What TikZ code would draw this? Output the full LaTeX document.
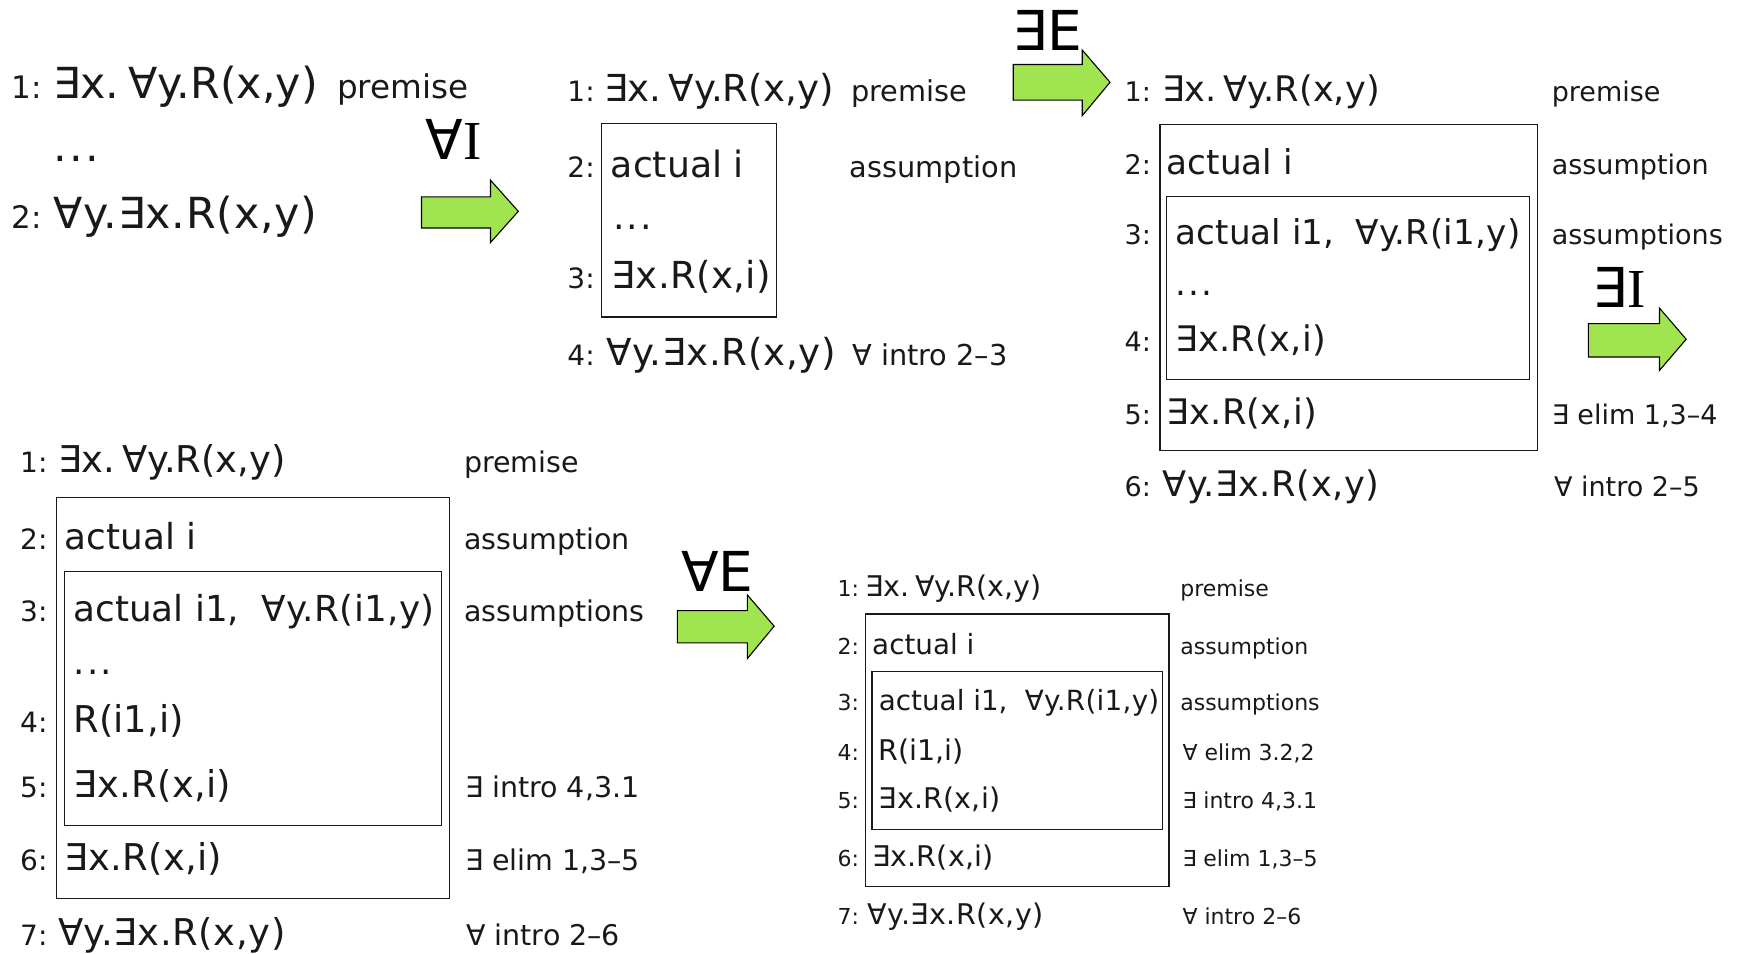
\documentclass[tikz,border=0pt]{standalone}
\usepackage{fontspec}
\setmainfont{DejaVu Sans}
\newfontfamily\serifI{Liberation Serif}
\definecolor{arrowgreen}{RGB}{160,228,80}
\definecolor{ink}{RGB}{25,25,25}
\newcommand{\fa}{{\addfontfeatures{LetterSpace=1.8}∀y.∃x.R(x,y)}}
\newcommand{\fe}{∃x.\hspace{0.2em}∀y.R(x,y)}
\newcommand{\fr}{{\addfontfeatures{LetterSpace=0.8}∃x.R(x,i)}}
\newcommand{\fact}{actual i1,\hspace{0.3em} {\addfontfeatures{LetterSpace=1}∀y.R(i1,y)}}
\newcommand{\fdots}{.\hspace{0.06em}.\hspace{0.06em}.}
\begin{document}
\begin{tikzpicture}[x=1.112245pt,y=-1.112245pt,
  every node/.style={text=ink},
  bw/.style={anchor=base west, inner sep=0pt},
  fA/.style={bw, font=\fontsize{42.8}{50}\selectfont},
  nA/.style={bw, font=\fontsize{31}{37}\selectfont},
  aA/.style={bw, font=\fontsize{32.6}{39}\selectfont},
  fB/.style={bw, font=\fontsize{37.2}{44}\selectfont},
  tB/.style={bw, font=\fontsize{36.2}{43}\selectfont},
  nB/.style={bw, font=\fontsize{28}{34}\selectfont},
  aB/.style={bw, font=\fontsize{28.8}{35}\selectfont},
  fC/.style={bw, font=\fontsize{35.2}{42}\selectfont},
  tC/.style={bw, font=\fontsize{34.2}{40}\selectfont},
  nC/.style={bw, font=\fontsize{27}{32}\selectfont},
  aC/.style={bw, font=\fontsize{27}{32}\selectfont},
  fD/.style={bw, font=\fontsize{36.9}{44}\selectfont},
  tD/.style={bw, font=\fontsize{35.8}{42}\selectfont},
  nD/.style={bw, font=\fontsize{28}{34}\selectfont},
  aD/.style={bw, font=\fontsize{28.5}{34}\selectfont},
  fE/.style={bw, font=\fontsize{28.5}{34}\selectfont},
  tE/.style={bw, font=\fontsize{27.8}{33}\selectfont},
  nE/.style={bw, font=\fontsize{22}{26}\selectfont},
  aE/.style={bw, font=\fontsize{22}{26}\selectfont},
  boxline/.style={draw=ink, line width=1.2pt},
  greenarrow/.style={draw=black, line width=1.1pt, fill=arrowgreen, line join=miter},
  steplabel/.style={anchor=center, inner sep=0pt, text=black, font=\fontsize{55}{60}\selectfont}
]
\useasboundingbox (0,0) rectangle (1568,857);

% ---------------- Panel A ----------------
\node[nA] (a1n) at (10,89) {1:};
\node[fA] (a1f) at (48,89) {\fe};
\node[aA] (a1r) at (303,89) {premise};
\node[fA] (adots) at (48,145) {\fdots};
\node[nA] (a2n) at (10,205) {2:};
\node[fA] (a2f) at (48,205) {\fa};

\node[steplabel] (labA) at (408,125) {∀{\serifI I}};
\draw[greenarrow] (379,177) -- (441,177) -- (441,162) -- (466,190) -- (441,218) -- (441,205) -- (379,205) -- cycle;

% ---------------- Panel B ----------------
\node[nB] (b1n) at (510,91) {1:};
\node[fB] (b1f) at (543,91) {\fe};
\node[aB] (b1r) at (765,91) {premise};
\draw[boxline] (541,111) rectangle (698,285);
\node[nB] (b2n) at (510,160) {2:};
\node[tB] (b2f) at (549,160) {actual i};
\node[aB] (b2r) at (764,160) {assumption};
\node[tB] (bdots) at (551,206) {\fdots};
\node[nB] (b3n) at (510,259) {3:};
\node[fB] (b3f) at (550,259) {\fr};
\node[nB] (b4n) at (510,329) {4:};
\node[fB] (b4f) at (545,329) {\fa};
\node[aB] (b4r) at (766,329) {∀ intro 2–3};

\node[steplabel] (labB) at (942,27) {∃E};
\draw[greenarrow] (911,58) -- (973,58) -- (973,45) -- (998,74) -- (973,104) -- (973,90) -- (911,90) -- cycle;

% ---------------- Panel C ----------------
\node[nC] (c1n) at (1011,91) {1:};
\node[fC] (c1f) at (1045,91) {\fe};
\node[aC] (c1r) at (1395,91) {premise};
\draw[boxline] (1043,112) rectangle (1382,405);
\node[nC] (c2n) at (1011,157) {2:};
\node[tC] (c2f) at (1049,157) {actual i};
\node[aC] (c2r) at (1395,157) {assumption};
\draw[boxline] (1049,177) rectangle (1375,341);
\node[nC] (c3n) at (1011,220) {3:};
\node[tC] (c3f) at (1057,220) {\fact};
\node[aC] (c3r) at (1395,220) {assumptions};
\node[tC] (cdots) at (1057,266) {\fdots};
\node[nC] (c4n) at (1011,316) {4:};
\node[fC] (c4f) at (1057,316) {\fr};
\node[nC] (c5n) at (1011,382) {5:};
\node[fC] (c5f) at (1049,382) {\fr};
\node[aC] (c5r) at (1395,382) {∃ elim 1,3–4};
\node[nC] (c6n) at (1011,446) {6:};
\node[fC] (c6f) at (1045,446) {\fa};
\node[aC] (c6r) at (1397,446) {∀ intro 2–5};

\node[steplabel] (labC) at (1456,258) {∃{\serifI I}};
\draw[greenarrow] (1428,291) -- (1492,291) -- (1492,277) -- (1516,305) -- (1492,333) -- (1492,321) -- (1428,321) -- cycle;

% ---------------- Panel D ----------------
\node[nD] (d1n) at (18,425) {1:};
\node[fD] (d1f) at (52,425) {\fe};
\node[aD] (d1r) at (417,425) {premise};
\draw[boxline] (51,447) rectangle (404,808);
\node[nD] (d2n) at (18,494) {2:};
\node[tD] (d2f) at (58,494) {actual i};
\node[aD] (d2r) at (417,494) {assumption};
\draw[boxline] (58,514) rectangle (397,742);
\node[nD] (d3n) at (18,559) {3:};
\node[tD] (d3f) at (66,559) {\fact};
\node[aD] (d3r) at (417,559) {assumptions};
\node[tD] (ddots) at (66,606) {\fdots};
\node[nD] (d4n) at (18,659) {4:};
\node[fD] (d4f) at (66,659) {R(i1,i)};
\node[nD] (d5n) at (18,717) {5:};
\node[fD] (d5f) at (66,717) {\fr};
\node[aD] (d5r) at (418,717) {∃ intro 4,3.1};
\node[nD] (d6n) at (18,783) {6:};
\node[fD] (d6f) at (58,783) {\fr};
\node[aD] (d6r) at (418,783) {∃ elim 1,3–5};
\node[nD] (d7n) at (18,850) {7:};
\node[fD] (d7f) at (52,850) {\fa};
\node[aD] (d7r) at (419,850) {∀ intro 2–6};

\node[steplabel] (labD) at (645,514) {∀E};
\draw[greenarrow] (609,549) -- (672,549) -- (672,535) -- (696,563) -- (672,592) -- (672,578) -- (609,578) -- cycle;

% ---------------- Panel E ----------------
\node[nE] (e1n) at (753,536) {1:};
\node[fE] (e1f) at (778,536) {\fe};
\node[aE] (e1r) at (1061,536) {premise};
\draw[boxline] (778,552) rectangle (1051,797);
\node[nE] (e2n) at (753,588) {2:};
\node[tE] (e2f) at (784,588) {actual i};
\node[aE] (e2r) at (1061,588) {assumption};
\draw[boxline] (784,604) rectangle (1045,746);
\node[nE] (e3n) at (753,639) {3:};
\node[tE] (e3f) at (790,639) {\fact};
\node[aE] (e3r) at (1061,639) {assumptions};
\node[nE] (e4n) at (753,684) {4:};
\node[fE] (e4f) at (790,684) {R(i1,i)};
\node[aE] (e4r) at (1063,684) {∀ elim 3.2,2};
\node[nE] (e5n) at (753,727) {5:};
\node[fE] (e5f) at (790,727) {\fr};
\node[aE] (e5r) at (1063,727) {∃ intro 4,3.1};
\node[nE] (e6n) at (753,779) {6:};
\node[fE] (e6f) at (784,779) {\fr};
\node[aE] (e6r) at (1063,779) {∃ elim 1,3–5};
\node[nE] (e7n) at (753,831) {7:};
\node[fE] (e7f) at (780,831) {\fa};
\node[aE] (e7r) at (1063,831) {∀ intro 2–6};
\end{tikzpicture}
\end{document}
